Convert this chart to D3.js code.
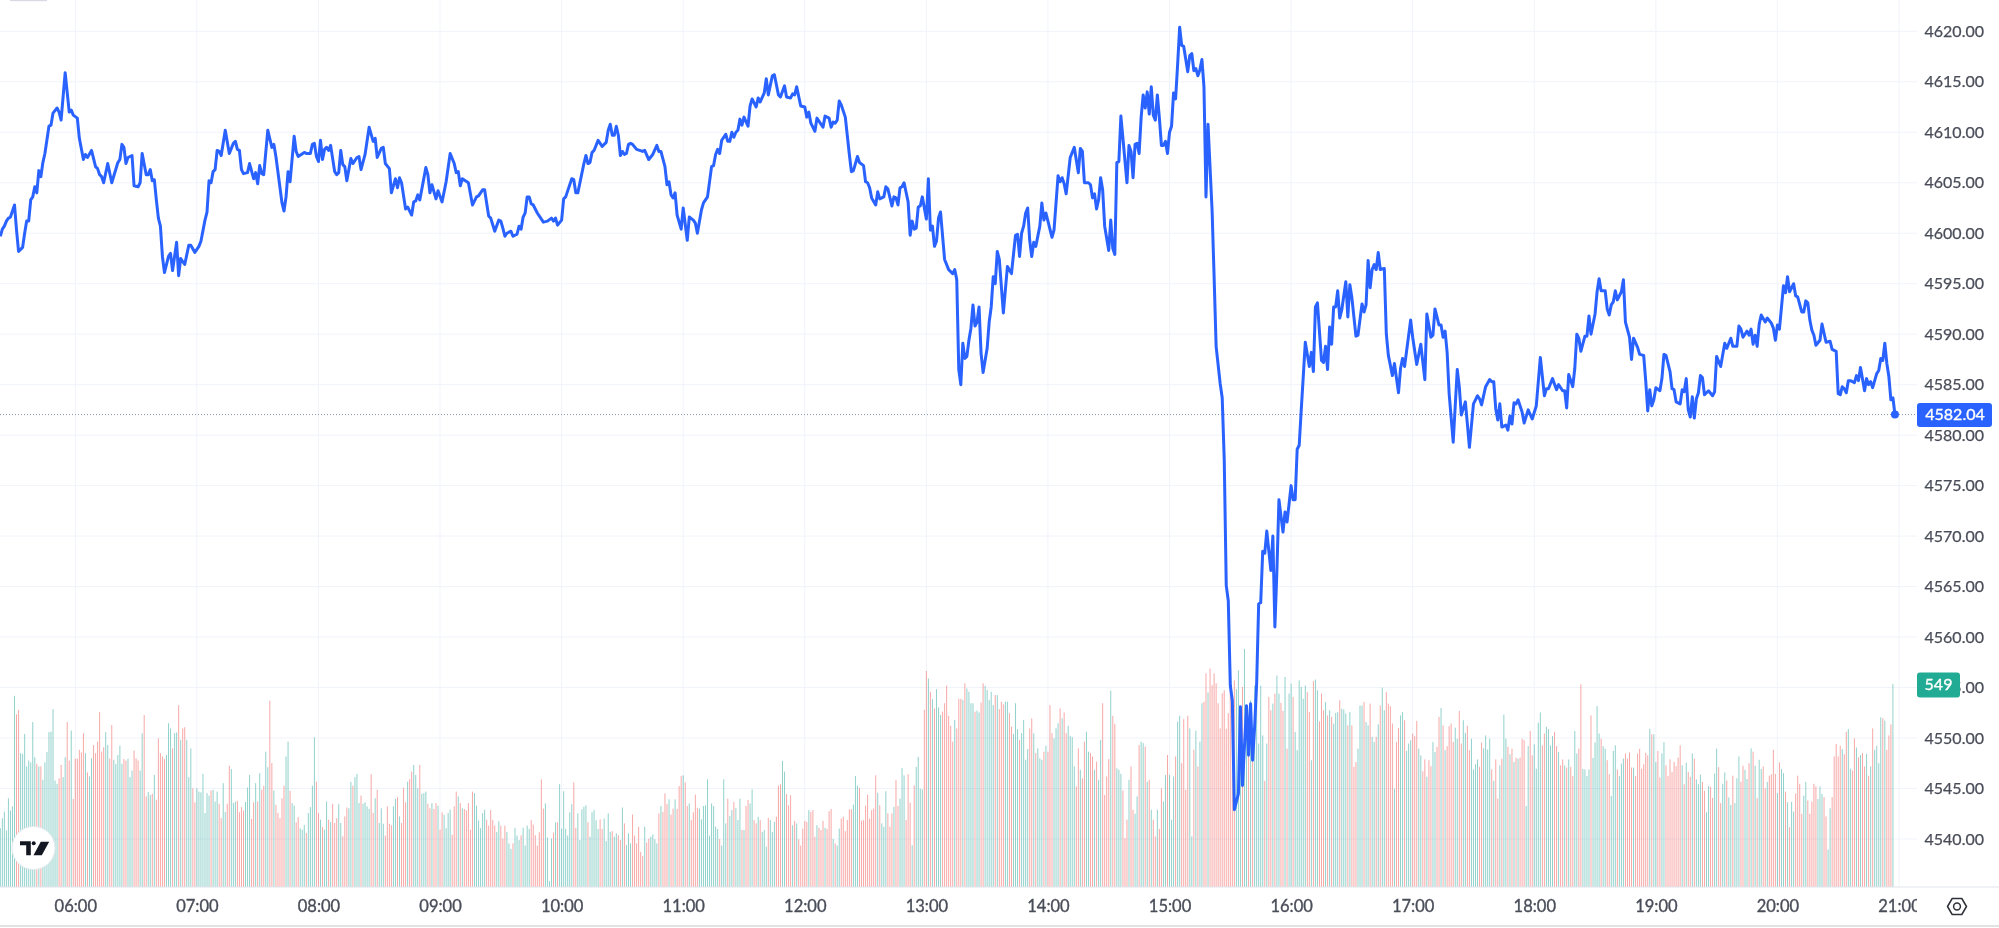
<!DOCTYPE html>
<html>
<head>
<meta charset="utf-8">
<script src="https://cdn.jsdelivr.net/npm/d3@7/dist/d3.min.js"></script>
<style>
  html, body { margin: 0; padding: 0; background: #fff; overflow: hidden; }
  svg { display: block; filter: blur(0.3px); }
  text { font-family: Lato, "Open Sans", sans-serif; }
</style>
</head>
<body>
<div id="chart"></div>
<script>
// [minutes after 06:00, price]
var priceSeries = [
  [-37,4599.7],[-36,4600.4],[-35,4600.7],[-34,4601.2],[-33,4601.5],[-32,4601.6],[-30,4602.8],[-29,4600.3],[-28,4598.2],[-26,4598.6],
  [-25,4600],[-24,4601.2],[-23,4601.2],[-22,4603.3],[-21,4603.6],[-20,4604.6],[-19,4604],[-18,4606.2],[-17,4605.6],[-16,4607],
  [-15,4607.9],[-13,4610.6],[-12,4610.7],[-11,4611.9],[-9,4612.4],[-8,4612],[-7,4611.2],[-5,4615.9],[-3,4612],[-2,4612.2],
  [-1,4611.7],[1,4611.4],[2,4609.4],[4,4607.3],[5,4607.8],[6,4607.5],[8,4608.2],[10,4606.6],[11,4606.4],[12,4605.8],
  [13,4605.6],[14,4605],[16,4606.9],[18,4605],[21,4607],[22,4607.3],[23,4608.8],[24,4608.5],[25,4606.9],[26,4607.5],
  [28,4607.7],[29,4604.7],[31,4604.6],[32,4605],[33,4607.9],[35,4605.8],[36,4605.8],[37,4606.3],[38,4605.2],[39,4605.3],
  [40,4603.3],[41,4601.5],[42,4600.7],[43,4597.7],[44,4596.1],[46,4597.7],[47,4598],[48,4596.3],[50,4599.1],[51,4595.8],
  [52,4597.5],[54,4596.9],[56,4598.8],[57,4598.8],[59,4598.1],[61,4598.7],[62,4599.2],[64,4601.3],[65,4602.1],[66,4605.2],
  [67,4605],[68,4606.1],[69,4606.3],[70,4608.2],[71,4608.1],[72,4607.7],[74,4610.2],[76,4607.9],[78,4608.9],[79,4609.1],
  [80,4608.3],[81,4608.2],[82,4606.3],[83,4605.9],[85,4606],[86,4606.9],[88,4605.4],[89,4606],[90,4604.9],[91,4606.7],
  [92,4605.9],[93,4605.8],[95,4610.2],[97,4608.5],[98,4608.8],[99,4607.6],[102,4603],[103,4602.2],[104,4603.6],[105,4606.1],
  [106,4605.1],[108,4609.6],[109,4608.1],[110,4607.6],[113,4608],[114,4607.9],[116,4607.9],[117,4608.8],[118,4608.9],[119,4607.6],
  [120,4607.1],[121,4609.2],[122,4607.3],[123,4608.3],[124,4608.5],[125,4608.2],[126,4608.7],[128,4606.1],[129,4605.8],[130,4606],
  [131,4608.2],[132,4606.8],[133,4606.6],[134,4605.2],[136,4607.4],[137,4606.9],[139,4607.5],[140,4607.6],[141,4606.3],[143,4607.8],
  [145,4610.5],[147,4609.1],[148,4609.4],[149,4607.5],[151,4608.4],[152,4608.5],[153,4606.9],[155,4606.4],[156,4604],[158,4605.4],
  [159,4604.5],[160,4605.5],[161,4605],[163,4602.4],[164,4602.6],[166,4601.8],[167,4603.1],[168,4603.2],[169,4603.8],[170,4603.3],
  [173,4606.5],[174,4605.8],[175,4604],[176,4604.8],[178,4603.4],[179,4604.2],[181,4603.1],[183,4605.1],[185,4607.9],[187,4606.9],
  [188,4606],[189,4606.1],[190,4604.7],[191,4605.4],[194,4605],[196,4602.8],[198,4603.6],[199,4603.7],[201,4604.3],[202,4604.3],
  [203,4603],[204,4601.7],[205,4601.5],[207,4600.2],[209,4601.3],
  [210,4601.2],[211,4600.5],[212,4599.7],[213,4600],[215,4600.2],[216,4599.7],[218,4599.9],[219,4600.7],[220,4600.4],[221,4601.6],
  [222,4602],[223,4603.6],[224,4603.6],[225,4602.9],[226,4602.8],[228,4602],[231,4601.1],[233,4601.2],[235,4601.5],[236,4601.2],
  [237,4601.5],[238,4600.8],[240,4601.3],[241,4603.4],[242,4603.6],[245,4605.4],[246,4605.3],[247,4604],[248,4604],[251,4606.9],
  [252,4607.7],[253,4606.9],[254,4607],[255,4608],[256,4608.2],[258,4609.2],[260,4608.6],[262,4609],[263,4610.2],[264,4610.8],
  [265,4609.7],[266,4609.7],[267,4610.6],[268,4609.7],[269,4607.7],[270,4608.1],[271,4607.8],[272,4607.9],[273,4608.8],[274,4608.9],
  [275,4608.8],[277,4608.3],[280,4608.1],[281,4608.2],[283,4607.3],[285,4607.8],[287,4608.7],[288,4608.1],[289,4608.1],[291,4606.6],
  [292,4604.8],[293,4605.1],[294,4603.8],[295,4603.5],[296,4604],[297,4601.8],[299,4600.4],[300,4602.5],[302,4599.3],[303,4601.6],
  [305,4601.3],[306,4601],[307,4600],[309,4602.3],[310,4603],[312,4603.6],[314,4606.6],[315,4606.7],[316,4607.8],[317,4608.3],
  [318,4607.9],[319,4609.2],[321,4609.8],[322,4609.1],[323,4609.1],[324,4610],[325,4609.5],[326,4610],[327,4610.2],[328,4611.3],
  [329,4610.7],[330,4611.5],[332,4610.6],[333,4612.6],[334,4613.3],[336,4612.5],[337,4613.4],[338,4613],[340,4613.9],[341,4615.3],
  [342,4613.7],[344,4615.6],[345,4615.7],[347,4613.7],[348,4613.5],[350,4614.6],[351,4613.5],[353,4613.4],[354,4613.8],[355,4613.7],
  [356,4614.5],[358,4612.6],[360,4612.5],[361,4611.5],[362,4612],[363,4610.9],[365,4610.1],[366,4611.4],[369,4610.5],[370,4611.6],
  [372,4611.4],[373,4610.5],[374,4611],[375,4610.9],[376,4611.2],[377,4613.1],[378,4612.7],[380,4611.5],[382,4607.8],[383,4606.1],
  [384,4606.2],[386,4607.6],[387,4607],[389,4606.7],[390,4605.1],[391,4605],[392,4604.5],[393,4603.5],[395,4602.8],[396,4604.1],
  [397,4603.4],[399,4603.6],[400,4604.6],[401,4604.4],[403,4602.7],[404,4603.6],[405,4603.5],[406,4602.8],[407,4604.5],[408,4604.6],
  [409,4605],[411,4603.1],[412,4599.8],[413,4601.2],[414,4600.4],[415,4600.5],[416,4602.6],[417,4602.7],[418,4603.6],[420,4601.4],
  [421,4605.4],[422,4600.3],[423,4600.7],[424,4598.7],[425,4599.2],[426,4601.5],[427,4602.1],[429,4597.4],[431,4596.4],[433,4596],
  [434,4596.4],[435,4595.4],[436,4586.5],[437,4585],[438,4589.1],[439,4587.6],[440,4587.8],[441,4589.4],[442,4590.6],[443,4592.9],
  [444,4590.8],[445,4591.2],[446,4592.7],[447,4588.1],[448,4586.2],[450,4588.6],[451,4591.2],[452,4592.7],[453,4595.7],[454,4595],
  [455,4598.2],[456,4597.4],[458,4592.1],[460,4596.7],[462,4596],[464,4599.8],[465,4599.9],[466,4597.7],[467,4600],[468,4600.7],
  [469,4602],[470,4602.5],[471,4599.3],[472,4597.7],[473,4599.1],[474,4598.7],[476,4600.7],[477,4603],[478,4601.3],[479,4602],
  [480,4601.2],[482,4599.6],[483,4600.3],[485,4605.7],[486,4605.1],[487,4605.5],[488,4604.9],[489,4603.9],[491,4607.5],[493,4608.5],
  [495,4606],[496,4608.4],[497,4608.1],[498,4605],[500,4605],[501,4604.8],[502,4603.5],[503,4603.9],[504,4602.4],[505,4603.3],
  [506,4605.5],[507,4604.3],[508,4600.7],[510,4598.3],[511,4601.3],[512,4598.5],[513,4597.9],[514,4607],[515,4607.1],[516,4611.6],
  [519,4605],[520,4608.7],[521,4608.1],[522,4605.5],[523,4608.8],[524,4608.9],[525,4607.9],[526,4611.5],[527,4613.7],[528,4612.4],
  [529,4614],[530,4611.8],[531,4614.5],[532,4611.7],[533,4611.2],[534,4613.7],[535,4611.4],[536,4608.7],[537,4608.7],[538,4609.1],
  [539,4607.9],[540,4610],[541,4610.6],[542,4613.9],[543,4613.3],[544,4616.7],[545,4620.4],[546,4618.6],[547,4618.5],[549,4616],
  [550,4617.6],[551,4617.8],[552,4616.1],[553,4616.3],[554,4615.6],[555,4616.2],[556,4617.2],[557,4614.5],[558,4603.6],[559,4610.8],
  [561,4602.3],[562,4595.7],[563,4588.8],[565,4585.1],[566,4583.7],[567,4577.6],[568,4565.1],[569,4563.6],[570,4555.2],[571,4553.7],
  [572,4542.9],[574,4544.5],[575,4553.1],[576,4545.3],[578,4553.2],[579,4548.3],[580,4553.4],[581,4547.8],[582,4551.1],[583,4555.4],
  [584,4563.3],[585,4563.4],[586,4568.5],[587,4568.3],[588,4570.5],[590,4566.6],[591,4570],[592,4561],[593,4566.6],[594,4573.6],
  [596,4570.4],[597,4572.4],[598,4571.4],[600,4575],[601,4573.6],[602,4573.6],[603,4578.6],[604,4579],[605,4582.5],[606,4585.8],
  [607,4589.2],[609,4586.8],[610,4588.2],[611,4586.3],[612,4592.7],[613,4593.1],[615,4587.4],[616,4587.2],[617,4588.8],[618,4586.5],
  [619,4590.7],[620,4589],[621,4592.7],[622,4592.7],[623,4594.3],[624,4591.6],[625,4592.4],[627,4595.2],[628,4591.7],[629,4594.9],
  [630,4593.6],[632,4589.8],[633,4589.9],[635,4593],[636,4592.2],[637,4592.9],[638,4597.3],[639,4594.6],[640,4596.4],[641,4596.9],
  [642,4596.4],[643,4598.1],[644,4596.4],[646,4596.5],[647,4590],[648,4587.9],[650,4585.9],[651,4587.1],[653,4584.2],[654,4586.6],
  [655,4587.6],[656,4586.8],[659,4591.4],[660,4589.7],[662,4587],[664,4589],[666,4585.5],[667,4592],[669,4589.7],[670,4589.9],
  [671,4592.5],[673,4590.9],[674,4590.9],[675,4589.7],[676,4590.3],[677,4588.2],[678,4584.1],[680,4579.3],[682,4586.5],[683,4584.8],
  [684,4582],[686,4583.3],[687,4581.1],[688,4578.8],[690,4583.1],[692,4583.9],[693,4583.6],[694,4583],[696,4584.8],[698,4585.5],
  [699,4585.3],[700,4585.3],[701,4582.6],[702,4581.5],[703,4583.1],[704,4580.8],[706,4581],[707,4580.5],[708,4581.9],[709,4581.1],
  [710,4583.2],[711,4583.1],[712,4583.5],[714,4582.3],[715,4581.2],[717,4582.5],[719,4581.6],[721,4582.9],[723,4587.7],[725,4583.9],
  [726,4584.6],[727,4584.6],[729,4585.6],[731,4584.5],[732,4585],[734,4584.4],[735,4584.4],[736,4582.7],[737,4586],[739,4584.8],
  [740,4586.6],[741,4590],[742,4589.6],[743,4588.3],[745,4589.8],[746,4589.8],[747,4591.8],[748,4590],[750,4592],[751,4594.2],
  [752,4595.5],[753,4594.3],[755,4594.3],[756,4592.5],[757,4591.9],[758,4592.9],[759,4593.2],[760,4594.3],[761,4593.4],[763,4594.2],
  [764,4595.4],[765,4591.2],[767,4589.7],[768,4587.5],[769,4589.6],[771,4588.7],[772,4588],[774,4587.9],[775,4585.4],[776,4582.4],
  [777,4584.5],[778,4582.9],[779,4583.5],[780,4584.7],[782,4584.4],[783,4585.6],[784,4588],[785,4587.9],[787,4586.3],[788,4584.6],
  [789,4584.5],[790,4583.3],[792,4583.1],[793,4584.5],[794,4584.3],[795,4585.6],[796,4582.5],[797,4581.8],[798,4583.8],[799,4581.7],
  [800,4583.6],[801,4584.2],[802,4585.9],[803,4585.7],[804,4584],[806,4584.4],[808,4583.9],[809,4584.3],[810,4587.8],[812,4586.8],
  [814,4589.1],[815,4588.6],[817,4589.6],[818,4588.8],[820,4588.8],[821,4590.8],[822,4590.5],[823,4589.7],[825,4590.3],[826,4589.9],
  [827,4590.5],[828,4589],[829,4589.9],[830,4588.8],[831,4591],[832,4591.9],[834,4591.2],[835,4591.6],[837,4591.1],[838,4590.6],
  [839,4589.4],[840,4590.9],[841,4590.5],[843,4594.8],[844,4594.1],[845,4595.7],[846,4594.2],[848,4595],[849,4593.8],[850,4593.7],
  [852,4592.2],[853,4592.2],[854,4593.3],[855,4593.1],[856,4591.4],[857,4590.4],[858,4589.9],[859,4588.9],[861,4589.4],[862,4591],
  [864,4589.2],[866,4589.3],[867,4588.5],[869,4588.3],[870,4584.1],[871,4584],[872,4584.8],[873,4584.6],[874,4584.2],[875,4585.4],
  [876,4585.4],[878,4585.2],[879,4585.9],[880,4585.4],[881,4586.7],[883,4584.4],[884,4585.6],[885,4585],[886,4585.3],[887,4584.7],
  [889,4586.1],[890,4586.4],[891,4587.6],[892,4587.4],[893,4589.1],[894,4587.1],[895,4585.8],[896,4583.5],[897,4583.7],[898,4582.04]
];

// one bar per minute, the last one is the 549 bar
var volumes = [
  159,186,204,153,240,207,218,517,467,479,362,360,414,326,342,337,446,351,333,326,
  326,290,337,365,419,420,481,288,279,294,330,297,351,446,342,423,238,347,347,371,
  364,416,362,310,299,348,384,362,393,473,366,378,419,384,347,438,344,333,357,382,
  333,346,342,347,297,315,369,348,342,315,416,465,245,257,249,252,303,236,402,362,
  353,346,357,443,429,375,416,418,492,398,429,432,398,297,375,267,229,267,258,256,
  306,200,254,247,261,263,231,258,225,186,281,203,225,328,319,227,231,233,202,216,
  207,230,269,303,184,229,281,231,308,263,274,366,324,504,335,261,222,200,186,240,
  274,353,393,260,227,220,175,189,159,155,168,146,200,216,274,405,285,200,182,162,
  155,231,182,176,225,173,186,224,173,137,191,215,213,284,274,297,306,227,247,225,
  229,218,211,305,200,240,263,173,213,171,139,218,171,167,218,238,243,191,173,269,
  229,285,292,312,330,303,267,330,252,254,258,225,213,227,211,227,220,155,202,195,
  159,200,209,141,218,258,245,227,213,211,207,227,155,258,254,220,180,159,200,209,182,166,
  208,181,166,149,178,166,131,166,149,118,103,118,160,139,127,140,160,112,166,157,
  181,169,140,112,148,291,212,226,134,16,131,147,175,175,278,158,259,157,139,202,
  224,283,160,199,127,210,217,221,175,136,202,208,181,157,183,157,185,124,199,149,
  151,136,145,140,127,215,172,113,145,118,196,139,118,163,95,84,163,120,131,136,
  142,129,118,199,219,203,253,224,237,196,212,237,211,273,300,302,283,219,226,181,
  202,250,214,212,183,219,221,291,139,226,219,163,157,130,112,291,172,239,192,208,
  230,213,181,239,154,154,219,235,226,264,181,172,190,181,149,154,109,187,181,149,
  176,190,274,278,341,312,251,221,248,167,179,172,129,112,158,179,176,208,203,208,
  136,167,160,154,179,160,157,205,211,130,118,112,158,185,190,151,181,210,210,223,
  300,274,268,179,181,220,250,185,208,212,302,255,221,172,163,259,199,163,199,217,
  289,219,239,322,302,181,305,228,113,275,325,352,266,264,
  479,584,564,528,508,483,535,486,465,474,497,545,463,436,393,452,429,509,509,506,
  551,537,528,497,497,474,477,472,499,551,544,533,506,528,492,519,519,481,501,494,
  501,501,470,434,414,497,427,398,416,452,344,373,429,456,416,362,375,348,344,366,
  382,366,492,416,402,429,443,483,456,472,416,436,409,405,326,272,375,317,294,393,
  420,366,362,353,317,339,290,398,497,249,299,346,531,463,441,321,317,306,261,132,
  182,290,326,209,198,245,384,393,389,380,285,290,209,182,137,209,157,267,231,303,
  357,303,182,299,353,447,463,335,454,263,463,429,137,371,423,326,393,497,501,578,
  526,591,546,578,551,497,429,524,532,428,470,532,505,559,535,
  586,478,541,644,491,450,505,420,545,505,388,545,410,287,388,514,478,496,523,572,
  523,498,476,568,374,523,550,514,419,370,559,541,509,545,527,473,343,557,561,532,
  448,523,478,500,464,478,460,442,471,473,505,482,480,469,437,473,437,325,338,374,
  491,491,500,446,437,496,406,392,406,440,491,539,478,527,496,489,442,266,392,430,
  464,473,451,368,388,397,415,408,449,374,356,313,345,298,343,327,392,365,379,460,
  484,437,370,381,435,442,392,431,401,476,388,451,417,436,370,401,318,332,345,325,
  390,375,410,372,401,318,287,345,239,
  329,347,466,401,379,359,374,338,350,347,350,401,397,219,381,422,356,386,320,444,
  472,383,415,433,427,383,408,419,381,365,329,345,329,323,345,325,300,422,361,374,
  548,319,318,300,318,464,349,391,489,415,401,381,374,343,305,246,368,383,318,300,
  334,347,361,347,364,323,323,300,361,374,320,332,363,356,428,413,413,338,368,296,
  361,392,329,300,345,311,338,327,350,383,329,278,336,311,298,361,347,291,278,304,
  284,260,202,273,271,241,307,374,
  324,227,279,310,288,242,222,301,227,294,353,285,328,317,292,335,375,366,328,240,
  344,319,326,267,284,301,305,371,306,254,337,319,308,258,229,162,230,204,253,301,
  279,198,247,284,234,198,231,279,272,238,272,252,243,191,101,213,243,353,387,353,
  382,373,359,420,427,320,315,402,377,351,357,362,326,360,301,326,429,371,382,335,
  459,456,450,371,410,440,549
];

var hourMinutes = [0, 60, 120, 180, 240, 300, 360, 420, 480, 540, 600, 660, 720, 780, 840, 900];
var hourLabels = ["06:00", "07:00", "08:00", "09:00", "10:00", "11:00", "12:00", "13:00", "14:00", "15:00", "16:00", "17:00", "18:00", "19:00", "20:00", "21:00"];
var priceTicks = [4540, 4545, 4550, 4555, 4560, 4565, 4570, 4575, 4580, 4585, 4590, 4595, 4600, 4605, 4610, 4615, 4620];
var lastPrice = 4582.04;
var lastVolume = 549;
var lastBarMinute = 897;

var width = 1999, height = 928;
var paneRight = 1917, paneBottom = 887;

var svg = d3.select("#chart").append("svg")
  .attr("width", width)
  .attr("height", height);

var x = d3.scaleLinear().domain([0, 900]).range([75.3, 1899]);
var y = d3.scaleLinear().domain([4540, 4620]).range([839, 31.3]);
var yVolume = d3.scaleLinear().domain([0, lastVolume]).range([paneBottom, 684]);

svg.append("clipPath").attr("id", "pane-clip")
  .append("rect").attr("width", paneRight).attr("height", height);

// small grey bit at the very top left
svg.append("rect").attr("x", 10).attr("y", 0).attr("width", 37).attr("height", 1.2).attr("fill", "#d9d9e6");

// grid
svg.append("g").selectAll("line").data(priceTicks).join("line")
  .attr("x1", 0).attr("x2", paneRight)
  .attr("y1", function(d) { return y(d); })
  .attr("y2", function(d) { return y(d); })
  .attr("stroke", "#f0f3fa");
svg.append("g").selectAll("line").data(hourMinutes).join("line")
  .attr("x1", function(d) { return x(d); })
  .attr("x2", function(d) { return x(d); })
  .attr("y1", 0).attr("y2", paneBottom)
  .attr("stroke", "#f0f3fa");

// bar colour follows the direction of the price around that minute
var bisectMinute = d3.bisector(function(d) { return d[0]; }).left;
function isUp(minute) {
  var i = bisectMinute(priceSeries, minute);
  if (i <= 0) return true;
  if (i >= priceSeries.length) i = priceSeries.length - 1;
  return priceSeries[i][1] >= priceSeries[i - 1][1];
}

var firstBarMinute = lastBarMinute - volumes.length + 1;

svg.append("g").attr("clip-path", "url(#pane-clip)")
  .selectAll("rect").data(volumes).join("rect")
  .attr("x", function(d, i) { return x(firstBarMinute + i) - 0.5; })
  .attr("width", 1)
  .attr("y", function(d) { return yVolume(d); })
  .attr("height", function(d) { return paneBottom - yVolume(d); })
  .attr("fill", function(d, i) { return isUp(firstBarMinute + i) ? "#26a69a" : "#ef5350"; })
  .attr("fill-opacity", 0.5);

// dotted last price line
svg.append("line")
  .attr("x1", 0).attr("x2", paneRight)
  .attr("y1", y(lastPrice)).attr("y2", y(lastPrice))
  .attr("stroke", "#8a97ab")
  .attr("stroke-dasharray", "1 2");

var line = d3.line()
  .x(function(d) { return x(d[0]); })
  .y(function(d) { return y(d[1]); });

svg.append("path")
  .datum(priceSeries)
  .attr("d", line)
  .attr("fill", "none")
  .attr("stroke", "#2962ff")
  .attr("stroke-width", 3)
  .attr("stroke-linejoin", "round");

svg.append("circle")
  .attr("cx", x(priceSeries[priceSeries.length - 1][0]))
  .attr("cy", y(lastPrice))
  .attr("r", 4)
  .attr("fill", "#2962ff");

// price scale
var priceAxis = svg.append("g")
  .attr("transform", "translate(1984,0)")
  .call(d3.axisLeft(y).tickValues(priceTicks).tickSize(0).tickPadding(0).tickFormat(d3.format(".2f")));
priceAxis.select(".domain").remove();
priceAxis.selectAll("text")
  .attr("fill", "#4a4e59")
  .attr("stroke", "#4a4e59")
  .attr("stroke-width", 0.25)
  .style("font-size", "16px");

// time scale, the 21:00 label gets cut by the price scale
svg.append("line")
  .attr("x1", 0).attr("x2", width)
  .attr("y1", paneBottom).attr("y2", paneBottom)
  .attr("stroke", "#e0e3eb");
svg.append("line")
  .attr("x1", 0).attr("x2", width)
  .attr("y1", 926).attr("y2", 926)
  .attr("stroke", "#e2e2e2")
  .attr("stroke-width", 2);

var timeAxis = svg.append("g")
  .attr("clip-path", "url(#pane-clip)")
  .append("g")
  .attr("transform", "translate(0,895)")
  .call(d3.axisBottom(x).tickValues(hourMinutes).tickSize(0).tickPadding(5).tickFormat(function(d, i) { return hourLabels[i]; }));
timeAxis.select(".domain").remove();
timeAxis.selectAll("text")
  .attr("fill", "#4a4e59")
  .attr("stroke", "#4a4e59")
  .attr("stroke-width", 0.35)
  .style("font-size", "16.5px");

// last value badges
var badges = svg.append("g");
badges.append("rect")
  .attr("x", paneRight).attr("y", y(lastPrice) - 11.5)
  .attr("width", 75).attr("height", 24).attr("rx", 3)
  .attr("fill", "#2962ff");
badges.append("text")
  .attr("x", 1955).attr("y", y(lastPrice)).attr("dy", "0.35em")
  .attr("text-anchor", "middle")
  .attr("fill", "#fff")
  .attr("stroke", "#fff")
  .attr("stroke-width", 0.35)
  .style("font-size", "16px")
  .text(d3.format(".2f")(lastPrice));
badges.append("rect")
  .attr("x", paneRight).attr("y", yVolume(lastVolume) - 11.5)
  .attr("width", 43).attr("height", 25).attr("rx", 3)
  .attr("fill", "#22ab94");
badges.append("text")
  .attr("x", 1938.5).attr("y", yVolume(lastVolume)).attr("dy", "0.35em")
  .attr("text-anchor", "middle")
  .attr("fill", "#fff")
  .attr("stroke", "#fff")
  .attr("stroke-width", 0.35)
  .style("font-size", "16px")
  .text(lastVolume);

// settings hexagon
var gear = svg.append("g").attr("transform", "translate(1957,906.5)")
  .attr("fill", "none").attr("stroke", "#2f3238").attr("stroke-width", 1.5);
gear.append("path").attr("d", "M-9.5 0L-4.8 -8H4.8L9.5 0L4.8 8H-4.8Z").attr("stroke-linejoin", "round");
gear.append("circle").attr("r", 3.4);

// logo
var logo = svg.append("g").attr("transform", "translate(33.5,848)");
logo.append("circle").attr("r", 21.5).attr("fill", "#fff").attr("stroke", "#e6eaee");
logo.append("path").attr("fill", "#131722")
  .attr("d", "M-13.5 -6.7H-2.7V7.3H-7.3V-2.7H-13.5Z M7.3 -6.3H15.7L8.3 7.3H0Z");
logo.append("circle").attr("cx", 0.2).attr("cy", -4.7).attr("r", 2).attr("fill", "#131722");
</script>
</body>
</html>
